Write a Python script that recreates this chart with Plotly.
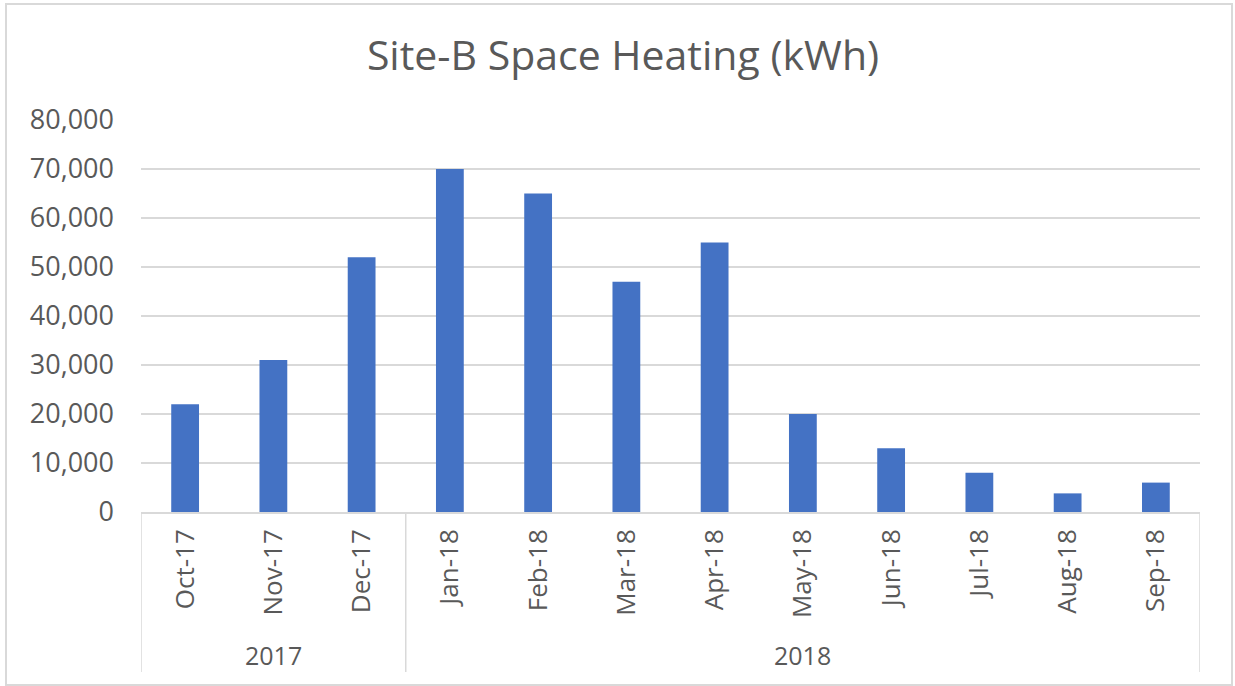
import plotly.graph_objects as go

months = ["Oct-17", "Nov-17", "Dec-17", "Jan-18", "Feb-18", "Mar-18",
          "Apr-18", "May-18", "Jun-18", "Jul-18", "Aug-18", "Sep-18"]
values = [22000, 31000, 52000, 70000, 65000, 47000,
          55000, 20000, 13000, 8000, 3800, 6000]
years = ["2017", "2018"]
year_counts = [3, 9]
y_ticks = [0, 10000, 20000, 30000, 40000, 50000, 60000, 70000, 80000]

W, H = 1235, 686
L, R, T, B = 141, 35, 120, 174
plot_w = W - L - R
plot_h = H - T - B
GREY = "#D9D9D9"
TXT = "#595959"
FONT = "'Open Sans', sans-serif"

fig = go.Figure()
fig.add_trace(go.Bar(x=list(range(len(months))), y=values,
                     marker=dict(color="#4472C4", line=dict(width=0)),
                     width=0.315, hoverinfo="x+y"))

def py(p):  # pixel y -> paper y
    return (H - B - p) / plot_h

def px(p):  # pixel x -> paper x
    return (p - L) / plot_w

shapes = []
start = -0.5
bounds = [start]
for c in year_counts:
    start += c
    bounds.append(start)
for b in bounds:
    shapes.append(dict(type="line", xref="x", yref="paper", x0=b, x1=b,
                       y0=0, y1=py(672), line=dict(color=GREY, width=1.5)))
# chart-area border
shapes.append(dict(type="rect", xref="paper", yref="paper",
                   x0=px(6), x1=px(1232), y0=py(685), y1=py(4),
                   line=dict(color=GREY, width=2)))

annotations = []
s = -0.5
for yr, c in zip(years, year_counts):
    annotations.append(dict(x=s + c / 2, y=py(655), xref="x", yref="paper",
                            xanchor="center", yanchor="middle",
                            text=yr, showarrow=False,
                            font=dict(family=FONT, size=25, color=TXT)))
    s += c

fig.update_layout(
    width=W, height=H,
    margin=dict(l=L, r=R, t=T, b=B),
    paper_bgcolor="white", plot_bgcolor="white",
    title=dict(text="Site-B Space Heating (kWh)", x=623 / W, xref="container",
               xanchor="center", y=1 - 56 / H, yref="container",
               yanchor="middle",
               font=dict(family=FONT, size=41, color=TXT)),
    showlegend=False,
    bargap=0.685,
    shapes=shapes,
    annotations=annotations,
    xaxis=dict(tickmode="array", tickvals=list(range(len(months))),
               ticktext=months, tickangle=-90, range=[-0.5, 11.5],
               showgrid=False, showline=True, linecolor=GREY, linewidth=1.5,
               ticks="", ticklabelstandoff=5,
               tickfont=dict(family=FONT, size=26, color=TXT), zeroline=False),
    yaxis=dict(range=[0, 80000], tickvals=y_ticks, tickformat=",d",
               showgrid=True, gridcolor=GREY, gridwidth=1.5, zeroline=False,
               showline=False, ticks="", ticklabelstandoff=26,
               tickfont=dict(family=FONT, size=27, color=TXT)),
)

fig.write_html("out.html", config={"displayModeBar": False},
               post_script="document.body.style.margin='0';")
